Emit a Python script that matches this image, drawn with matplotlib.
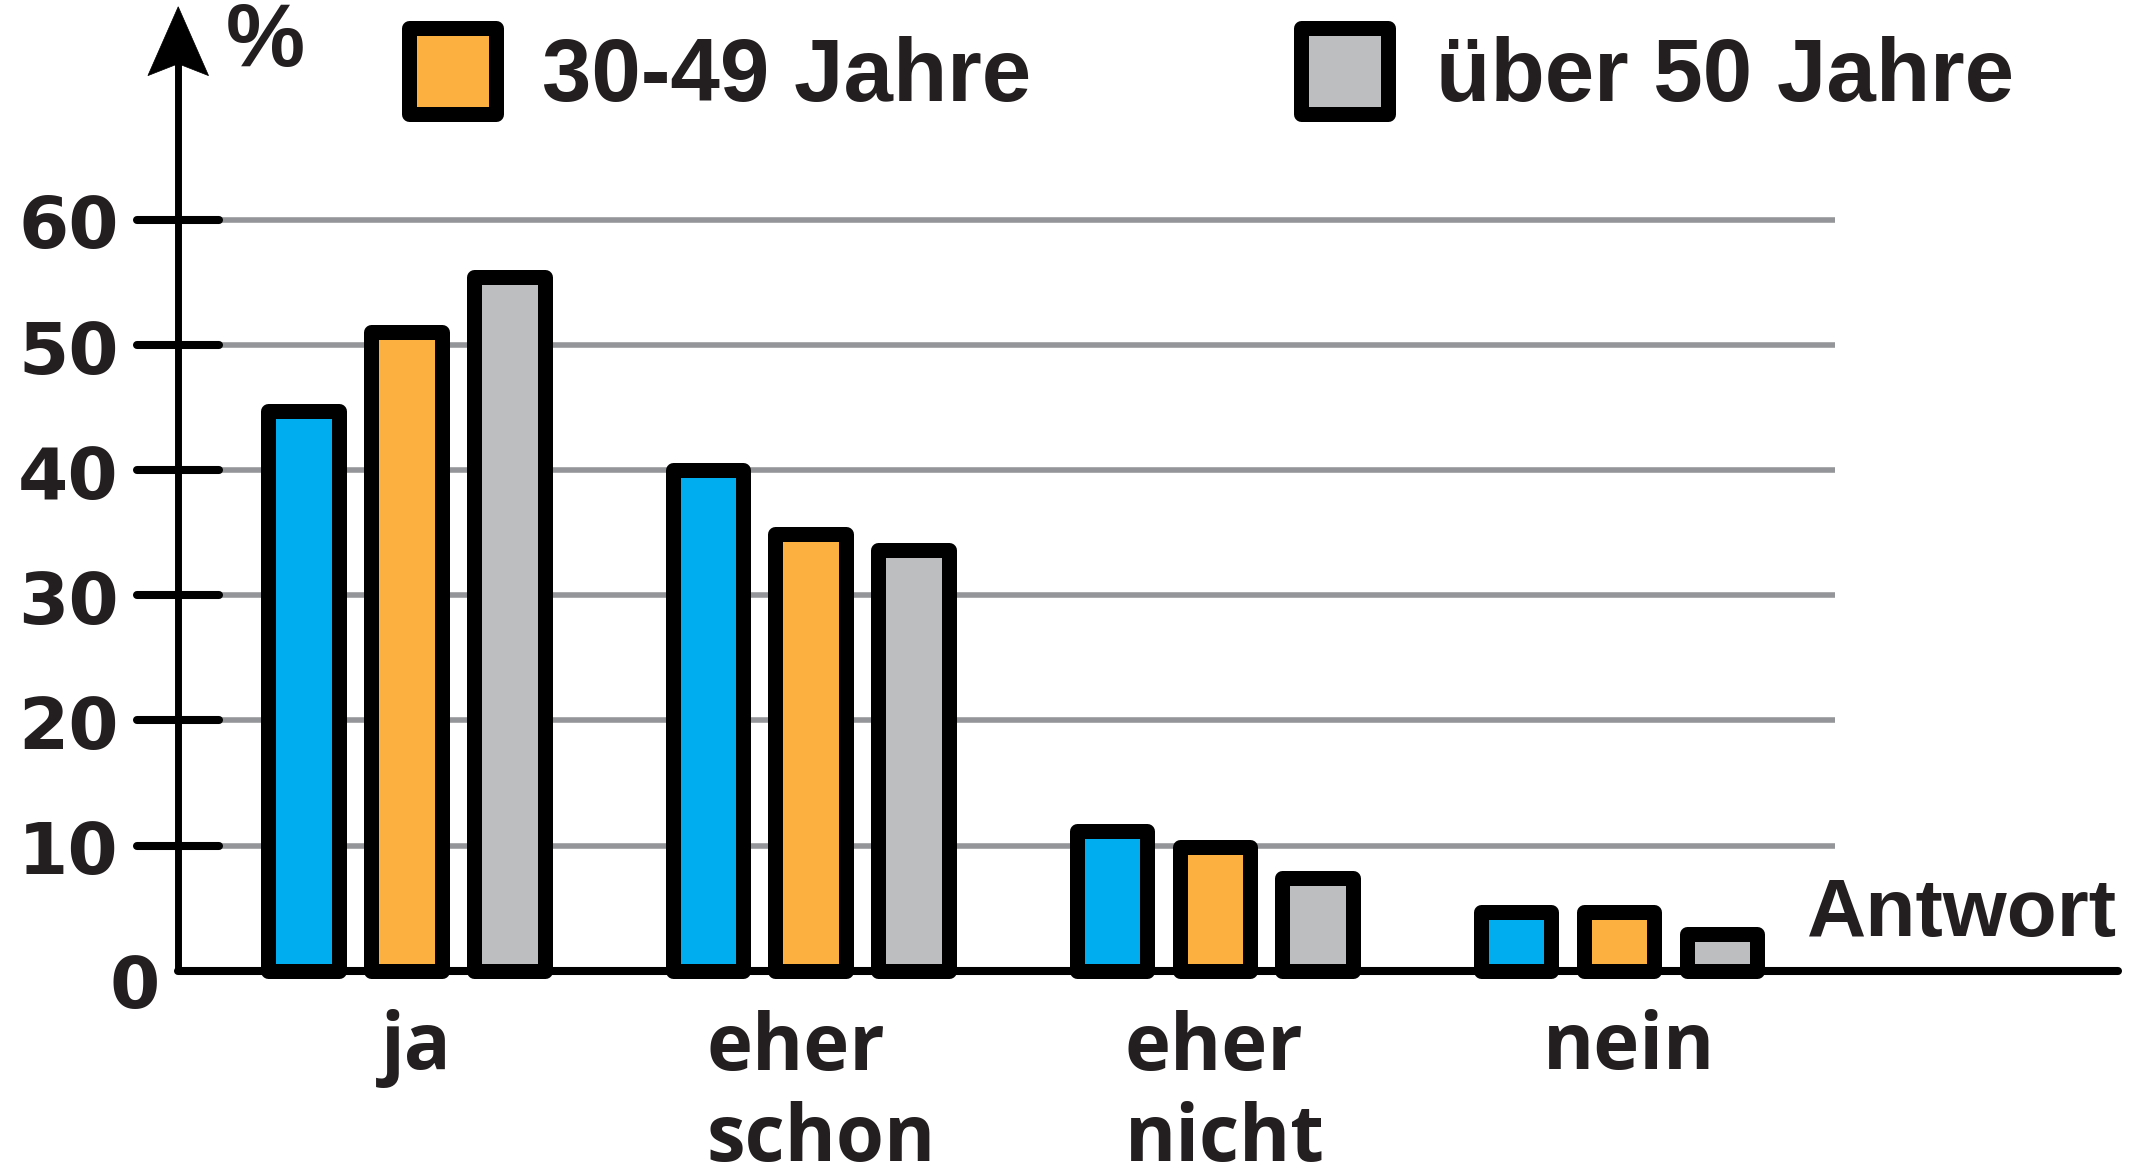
import matplotlib
matplotlib.use("Agg")
import matplotlib.pyplot as plt
from matplotlib.patches import Rectangle, Polygon

# Survey answers by age group (percent)
categories = ["ja", "eher\nschon", "eher\nnicht", "nein"]
series_names = ["unter 30 Jahre", "30-49 Jahre", "über 50 Jahre"]
values_young = [44.7, 40.0, 11.2, 4.7]
values_mid = [51.0, 34.9, 9.9, 4.7]
values_old = [55.4, 33.6, 7.4, 2.9]
y_ticks = [10, 20, 30, 40, 50, 60]
y_tick_labels = ["10", "20", "30", "40", "50", "60"]

colors = ["#00AEEF", "#FBB040", "#BCBEC0"]
grid_color = "#939598"
text_color = "#231F20"

W, H = 2150, 1176
fig = plt.figure(figsize=(W / 100, H / 100), dpi=100)
ax = fig.add_axes([0, 0, 1, 1])
ax.set_xlim(-1.006, 4.314)
ax.set_ylim(-16.39, 77.54)
ax.axis("off")

x_axis_left = -0.565
grid_right = 3.534
x_axis_right = 4.236

# horizontal grid
ax.hlines(y_ticks, x_axis_left, grid_right, color=grid_color, lw=4.0, zorder=1)

# bars
offsets = [-0.2545, 0.0, 0.2545]
bar_w = 0.1745
for series, off, col in zip([values_young, values_mid, values_old], offsets, colors):
    xs = [i + off for i in range(len(categories))]
    bars = ax.bar(xs, series, width=bar_w, color=col, edgecolor="black",
                  linewidth=10.8, zorder=2)
    for b in bars:
        b.set_joinstyle("round")

# ticks on the y axis
ax.hlines(y_ticks, -0.667, -0.463, color="black", lw=5.8, zorder=4,
          capstyle="round")

# axes lines
ax.plot([x_axis_left, x_axis_right], [0, 0], color="black", lw=5.8,
        solid_capstyle="round", zorder=5)
ax.plot([x_axis_left, x_axis_left], [0, 73.0], color="black", lw=5.0,
        solid_capstyle="butt", zorder=5)
arrow = Polygon([[x_axis_left, 77.0], [-0.490, 71.5], [x_axis_left, 72.45],
                 [-0.640, 71.5]], closed=True, facecolor="black",
                edgecolor="black", lw=0.5, zorder=6)
ax.add_patch(arrow)

# tick labels
for v, lab in zip(y_ticks, y_tick_labels):
    ax.text(-0.712, v - 2.3, lab, ha="right", va="baseline", fontsize=52,
            fontweight="heavy", family="DejaVu Sans", color=text_color)
ax.text(-0.61, -2.96, "0", ha="right", va="baseline", fontsize=52,
        fontweight="heavy", family="DejaVu Sans", color=text_color)

# category labels (multi-line labels are left aligned within their block;
# the baseline anchor of a multi-line text is its last line)
first_baseline = -7.88
line_step = 7.32
for i, cat in enumerate(categories):
    n_lines = cat.count("\n") + 1
    ax.text(i + 0.025, first_baseline - line_step * (n_lines - 1), cat,
            ha="center", va="baseline", multialignment="left",
            linespacing=1.21, fontsize=56, fontweight="bold",
            family="Open Sans", color=text_color)

# axis titles
ax.text(3.466, 2.74, "Antwort", ha="left", va="baseline", fontsize=59,
        fontweight="bold", family="Liberation Sans", color=text_color)
fig.text(226 / W, 1 - 66 / H, "%", ha="left", va="baseline", fontsize=64,
         fontweight="bold", family="Liberation Sans", color=text_color)

# legend
def legend_entry(box_left, text_left, label, col):
    x0, x1 = box_left + 7.3, box_left + 93.8
    y0, y1 = 27.9, 113.5
    rect = Rectangle((x0 / W, 1 - y1 / H), (x1 - x0) / W, (y1 - y0) / H,
                     transform=fig.transFigure, facecolor=col,
                     edgecolor="black", lw=10.8, joinstyle="round")
    fig.patches.append(rect)
    fig.text(text_left / W, 1 - 101 / H, label, ha="left", va="baseline",
             fontsize=64, fontweight="bold", family="Liberation Sans",
             color=text_color)

legend_entry(402, 542, series_names[1], colors[1])
legend_entry(1294, 1436, series_names[2], colors[2])

fig.savefig("out.png", dpi=100, facecolor="white")
